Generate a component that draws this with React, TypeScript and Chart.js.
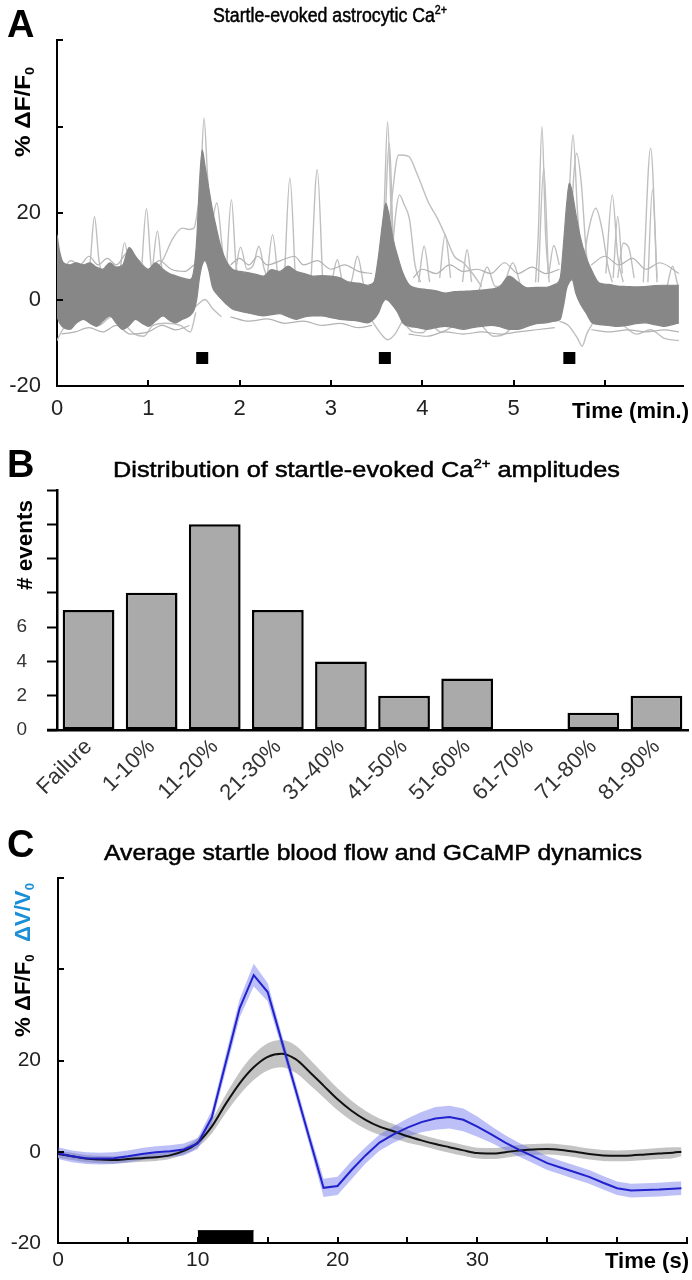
import React, { useEffect, useRef } from 'react';
import { Chart, registerables } from 'chart.js';

Chart.register(...registerables);

const FONT = "'Liberation Sans', Arial, Helvetica, sans-serif";
Chart.defaults.font.family = FONT;

// ---------------- Panel A : startle-evoked astrocytic Ca2+ ----------------
const aXTicks = [0, 1, 2, 3, 4, 5, 6];
const aXLabels = ['0', '1', '2', '3', '4', '5', ''];
const aYTicks = [-20, 0, 20, 40, 60];
const aYLabels = ['-20', '0', '20', '', ''];
const aStimTimes = [1.59, 3.59, 5.61];
const aStimLevel = -13.5;

// dense cloud of traces: time (min) with upper / lower edge (% dF/F0)
const aTime = [
  0, 0.03, 0.07, 0.14, 0.21, 0.29, 0.36, 0.43, 0.5, 0.58,
  0.65, 0.72, 0.79, 0.86, 0.93, 1.0, 1.08, 1.16, 1.23, 1.3,
  1.37, 1.45, 1.5, 1.53, 1.56, 1.59, 1.62, 1.66, 1.7, 1.74,
  1.79, 1.85, 1.92, 2.0, 2.09, 2.18, 2.26, 2.35, 2.44, 2.53,
  2.62, 2.71, 2.8, 2.9, 3.0, 3.1, 3.2, 3.3, 3.4, 3.47,
  3.52, 3.56, 3.6, 3.64, 3.68, 3.73, 3.79, 3.86, 3.95, 4.05,
  4.15, 4.25, 4.35, 4.45, 4.55, 4.65, 4.75, 4.85, 4.95, 5.05,
  5.15, 5.25, 5.35, 5.45, 5.51, 5.55, 5.58, 5.61, 5.64, 5.68,
  5.73, 5.79, 5.86, 5.94, 6.04, 6.14, 6.24, 6.34, 6.44, 6.54,
  6.64, 6.74, 6.81,
];
const aUpper = [
  15, 11, 8.5, 8, 8.5, 8, 8.5, 7.5, 7, 8.5,
  7.5, 8, 12, 10, 8, 7, 8.5, 7, 6, 5.5,
  5, 4.6, 7, 14, 27, 34.6, 31, 26, 21, 17,
  12.5, 9, 7, 6.5, 6.2, 5.8, 5.4, 6.9, 6.5, 7.7,
  6.5, 6, 5.4, 5.5, 5.4, 5, 4, 3.8, 3.3, 4,
  10, 17, 22.3, 19, 14, 10, 6, 3.3, 2.6, 2.3,
  2, 1.5, 1.8, 1.9, 2, 2.2, 2.4, 3, 5.4, 4,
  2.7, 2.8, 2.8, 3.5, 5, 14, 22, 26.9, 25, 20,
  14.5, 10, 6.5, 3.8, 3.5, 3.1, 3, 2.9, 3, 3.2,
  3.3, 3.3, 3.3,
];
const aLower = [
  -4, -5.5, -6.5, -6.9, -5.5, -4.6, -5.5, -6.2, -5, -3.8,
  -5.5, -6.9, -6, -4.6, -5.5, -6.2, -5, -3.8, -4.8, -5.4,
  -4.6, -3.8, -2.5, 0, 5, 8, 9, 7, 3, 1.5,
  0.3, -1, -2.2, -2.7, -3.1, -3.5, -3.8, -3.5, -3.3, -4,
  -4.6, -4, -3.8, -3.8, -4.2, -4.6, -4.8, -5, -5.4, -4.5,
  -3.1, -1, 0, -0.5, -1.5, -3, -5.5, -6.2, -6.5, -6.9,
  -6.5, -6.2, -6.5, -6.9, -6.5, -6.2, -6, -6.3, -6.9, -6.9,
  -6.2, -5.6, -5.4, -5, -4.6, -1, 2.5, 4, 4.6, 1.5,
  -1, -3, -5.4, -5.8, -6, -6.2, -6, -5.6, -5.4, -5.8,
  -6.2, -5.8, -5.4,
];

// traces hugging the edge of the cloud: [time, value] pairs
const aHaloTraces: number[][][] = [
  [[0.05, 6], [0.15, 9], [0.25, 8], [0.35, 10], [0.45, 8], [0.55, 9.5], [0.65, 8], [0.78, 11], [0.9, 9], [1.0, 7], [1.12, 9], [1.25, 7], [1.4, 6.5], [1.5, 8]],
  [[1.9, 8], [2.0, 9.5], [2.1, 8], [2.2, 10], [2.3, 8], [2.45, 9], [2.6, 10], [2.7, 8], [2.85, 9], [3.0, 7], [3.15, 8], [3.3, 6.5], [3.45, 6]],
  [[3.9, 5], [4.0, 7], [4.15, 6], [4.3, 8], [4.45, 6.5], [4.6, 7], [4.75, 6], [4.9, 8.5], [5.05, 6], [5.2, 7.5], [5.35, 6], [5.5, 7]],
  [[5.85, 8], [6.0, 10], [6.15, 8], [6.3, 9.5], [6.45, 7], [6.6, 8.5], [6.81, 6]],
  [[0.05, -8], [0.2, -7.5], [0.35, -6.5], [0.5, -7.5], [0.65, -6], [0.8, -8], [1.0, -7.5], [1.15, -6], [1.3, -7], [1.45, -6]],
  [[1.9, -4], [2.1, -5], [2.3, -4.5], [2.5, -5.5], [2.7, -5], [2.9, -6], [3.1, -5.5], [3.3, -6.5], [3.45, -6]],
  [[3.85, -8], [4.05, -8.5], [4.25, -7.5], [4.45, -8], [4.65, -7.5], [4.85, -8], [5.05, -7.5], [5.25, -7], [5.45, -6.5]],
  [[5.85, -7], [6.05, -7.5], [6.25, -7], [6.45, -7.5], [6.65, -7], [6.81, -7.5]],
];

// individual traces that leave the cloud: [time, value] pairs
const aLightTraces: number[][][] = [
  [[0.30, 4], [0.36, 8], [0.41, 19.2], [0.46, 9], [0.52, 4]],
  [[0.68, 5], [0.74, 13.1], [0.80, 6]],
  [[0.92, 5], [0.98, 21], [1.03, 8], [1.07, 6]],
  [[1.04, 6], [1.10, 15.8], [1.15, 7], [1.20, 4]],
  [[1.02, 5], [1.16, 9.2], [1.26, 13.8], [1.37, 16.5], [1.45, 16.2], [1.50, 16.5], [1.55, 22], [1.60, 28], [1.70, 18], [1.80, 10], [1.90, 6]],
  [[1.52, 6], [1.57, 25], [1.61, 41.9], [1.65, 28], [1.70, 15], [1.78, 6]],
  [[1.68, 15], [1.75, 22.3], [1.82, 10], [1.88, 5]],
  [[1.85, 5], [1.91, 23.1], [1.96, 8], [2.00, 4]],
  [[1.95, 6], [2.01, 12.1], [2.08, 7], [2.15, 8], [2.21, 12.3], [2.27, 7], [2.31, 5]],
  [[2.30, 5], [2.36, 15], [2.42, 5]],
  [[2.49, 5], [2.55, 28.1], [2.61, 5]],
  [[2.78, 4], [2.85, 30], [2.91, 4]],
  [[3.00, 3], [3.07, 9.2], [3.14, 3], [3.22, 4], [3.29, 10], [3.36, 3]],
  [[3.53, 3], [3.58, 20], [3.62, 41.1], [3.66, 20], [3.72, 5]],
  [[3.57, 5], [3.64, 36.1], [3.68, 15], [3.74, 5]],
  [[3.58, 5], [3.66, 22], [3.74, 33.4], [3.85, 33.1], [3.94, 29.2], [4.07, 22.3], [4.16, 19], [4.24, 15.4], [4.35, 10], [4.45, 8.5], [4.55, 6], [4.65, 3]],
  [[3.66, 8], [3.71, 20], [3.75, 24.2], [3.80, 22], [3.86, 18.5], [3.92, 8], [3.98, 4]],
  [[3.96, 4], [4.02, 12.3], [4.08, 4]],
  [[4.19, 5], [4.25, 15], [4.31, 5]],
  [[4.44, 4], [4.49, 11.5], [4.54, 4]],
  [[4.62, 2], [4.71, 7.5], [4.80, 3], [4.90, 4], [4.99, 8.5], [5.08, 3]],
  [[5.24, 4], [5.27, 15], [5.31, 40], [5.35, 15], [5.39, 4]],
  [[5.27, 4], [5.33, 30.4], [5.38, 6]],
  [[5.38, 5], [5.44, 12.5], [5.50, 8]],
  [[5.56, 5], [5.61, 25], [5.65, 38.1], [5.70, 20], [5.76, 6]],
  [[5.60, 8], [5.69, 33.8], [5.74, 27], [5.80, 10], [5.86, 5]],
  [[5.76, 8], [5.82, 16], [5.90, 21.1], [5.97, 16], [6.03, 8], [6.08, 4]],
  [[6.01, 6], [6.08, 24.2], [6.14, 10], [6.20, 4]],
  [[6.09, 5], [6.14, 19.2], [6.19, 6]],
  [[6.14, 5], [6.20, 13], [6.26, 12], [6.32, 5]],
  [[6.42, 4], [6.50, 35], [6.57, 5]],
  [[6.47, 4], [6.52, 25.4], [6.57, 4]],
  [[6.68, 3], [6.74, 7.7], [6.80, 3]],
  [[0, -9.5], [0.06, -7], [0.15, -5], [0.3, -4], [0.45, -6], [0.6, -4], [0.75, -6], [0.85, -8], [0.95, -8.5], [1.05, -6], [1.2, -5.5], [1.35, -6], [1.46, -7.5], [1.52, -3]],
  [[1.45, -3], [1.55, -1], [1.62, 0], [1.7, -2], [1.8, -4]],
  [[3.45, -5], [3.55, -8], [3.62, -9.3], [3.7, -8], [3.78, -5]],
  [[3.78, -5], [3.9, -7.5], [4.0, -7.7], [4.1, -6], [4.2, -7.5], [4.35, -6]],
  [[4.65, -6], [4.78, -8.5], [4.9, -8], [5.0, -6]],
  [[5.5, -5], [5.6, -6], [5.7, -9], [5.75, -10.8], [5.8, -8], [5.88, -5]],
  [[6.2, -6], [6.35, -8], [6.5, -7], [6.65, -9], [6.81, -9.5]],
];

// ---------------- Panel B : distribution of amplitudes ----------------
const bCategories = ['Failure', '1-10%', '11-20%', '21-30%', '31-40%', '41-50%', '51-60%', '61-70%', '71-80%', '81-90%'];
const bCounts = [7, 8, 12, 7, 4, 2, 3, 0, 1, 2];
const bYTicks = [0, 2, 4, 6, 8, 10, 12, 14];
const bYLabels = ['0', '2', '4', '6', '', '', '', ''];

// ---------------- Panel C : average blood flow and GCaMP ----------------
const cTime = [
  0, 1, 2, 3, 4, 5, 6, 7, 8, 9,
  10, 11, 12, 13, 14, 15, 16, 17, 18, 19,
  20, 21, 22, 23, 24, 25, 26, 27, 28, 29,
  30, 31, 32, 33, 34, 35, 36, 37, 38, 39,
  40, 41, 42, 43, 44, 44.6,
];
const cFlow = [
  -0.3, -1.0, -1.4, -1.5, -1.4, -1.0, -0.5, -0.1, 0.1, 0.5,
  1.8, 7.5, 19.5, 31.5, 38.7, 35, 24.3, 13.6, 2.8, -7.9,
  -7.5, -4, -0.8, 2, 3.8, 5.3, 6.5, 7.3, 7.6, 7,
  5.5, 3.8, 2, 0.4, -1, -2.5, -3.5, -4.5, -5.5, -6.8,
  -8, -8.5, -8.4, -8.3, -8.1, -8,
];
const cFlowSem = [
  1.3, 1.3, 1.3, 1.3, 1.3, 1.3, 1.3, 1.3, 1.3, 1.3,
  1.2, 1.5, 1.8, 2, 2.5, 2, 1.5, 1.5, 1.5, 2,
  2, 2, 1.8, 1.8, 1.8, 2, 2.2, 2.5, 2.5, 2.5,
  2.2, 1.8, 1.6, 1.5, 1.5, 1.5, 1.5, 1.5, 1.5, 1.5,
  1.5, 1.5, 1.5, 1.5, 1.5, 1.5,
];
const cGCaMP = [
  -0.5, -1.0, -1.5, -1.7, -1.8, -1.6, -1.4, -1.2, -0.8, 0.2,
  2, 5.5, 10.5, 15, 18.5, 20.8, 21.5, 20.3, 17.5, 14.5,
  11.5, 9.0, 7.0, 5.5, 4.5, 3.4, 2.5, 1.7, 1.0, 0.3,
  -0.3, -0.4, -0.1, 0.3, 0.5, 0.6, 0.4, 0, -0.5, -0.8,
  -0.9, -0.8, -0.6, -0.4, -0.2, 0,
];
const cGCaMPSem = [
  0.8, 0.8, 0.8, 0.8, 0.8, 0.8, 0.8, 0.8, 0.8, 0.8,
  1, 1.5, 2, 2.5, 2.8, 3, 3, 3, 2.8, 2.6,
  2.4, 2.2, 2, 1.8, 1.6, 1.4, 1.2, 1.2, 1.2, 1.2,
  1.2, 1.2, 1.2, 1.2, 1.2, 1.2, 1.2, 1.2, 1.2, 1.2,
  1.2, 1.2, 1.2, 1.2, 1.2, 1,
];
const cStimTimes = [10, 14];
const cStimTop = -17.3;
const cXTicks = [0, 5, 10, 15, 20, 25, 30, 35, 40, 45];
const cXLabels = ['0', '', '10', '', '20', '', '30', '', '', ''];
const cYTicks = [-20, 0, 20, 40, 60];
const cYLabels = ['-20', '0', '20', '', ''];

// ---------------- helpers ----------------
type Part = { t: string; font: string; color?: string; dy?: number };

function drawParts(
  ctx: CanvasRenderingContext2D,
  parts: Part[],
  x: number,
  y: number,
  opts: { align: 'left' | 'center' | 'right'; width?: number; rotate?: boolean; stroke?: number }
) {
  ctx.save();
  let natural = 0;
  for (const p of parts) {
    ctx.font = p.font;
    natural += ctx.measureText(p.t).width;
  }
  const sx = opts.width ? opts.width / natural : 1;
  const total = natural * sx;
  ctx.translate(x, y);
  if (opts.rotate) ctx.rotate(-Math.PI / 2);
  const start = opts.align === 'left' ? 0 : opts.align === 'center' ? -total / 2 : -total;
  ctx.translate(start, 0);
  ctx.scale(sx, 1);
  ctx.textAlign = 'left';
  ctx.textBaseline = 'alphabetic';
  let cx = 0;
  for (const p of parts) {
    ctx.font = p.font;
    ctx.fillStyle = p.color || '#000';
    ctx.fillText(p.t, cx, p.dy || 0);
    if (opts.stroke) {
      ctx.strokeStyle = p.color || '#000';
      ctx.lineWidth = opts.stroke;
      ctx.strokeText(p.t, cx, p.dy || 0);
    }
    cx += ctx.measureText(p.t).width;
  }
  ctx.restore();
}

function inwardTicks(chart: any, xVals: number[], yVals: number[], len: number, lw: number) {
  const ctx = chart.ctx;
  const ca = chart.chartArea;
  const xs = chart.scales.x;
  const ys = chart.scales.y;
  ctx.save();
  ctx.strokeStyle = '#000';
  ctx.lineWidth = lw;
  for (const v of xVals) {
    const px = Math.round(xs.getPixelForValue(v));
    ctx.beginPath();
    ctx.moveTo(px, ca.bottom);
    ctx.lineTo(px, ca.bottom - len);
    ctx.stroke();
  }
  for (const v of yVals) {
    const py = Math.round(ys.getPixelForValue(v));
    ctx.beginPath();
    ctx.moveTo(ca.left, py);
    ctx.lineTo(ca.left + len, py);
    ctx.stroke();
  }
  ctx.restore();
}

const baseOptions = (padTop: number) => ({
  responsive: false,
  animation: false as const,
  devicePixelRatio: 1,
  events: [] as any[],
  layout: { padding: { top: padTop, right: 4, left: 0, bottom: 0 } },
  plugins: { legend: { display: false }, tooltip: { enabled: false } },
});

const tickFont = (size: number) => ({ family: FONT, size });

// ---------------- chart builders ----------------
function buildA(height: number) {
  const datasets: any[] = [];
  datasets.push({
    data: aStimTimes.map((t) => ({ x: t, y: aStimLevel })),
    showLine: false,
    pointStyle: 'rect',
    pointRadius: 8.5,
    pointBackgroundColor: '#000',
    pointBorderColor: '#000',
    pointBorderWidth: 0,
    order: 0,
  });
  datasets.push({
    data: aTime.map((t, i) => ({ x: t, y: aUpper[i] })),
    borderColor: '#878787',
    backgroundColor: '#878787',
    borderWidth: 1.2,
    pointRadius: 0,
    fill: '+1',
    cubicInterpolationMode: 'monotone',
    order: 1,
  });
  datasets.push({
    data: aTime.map((t, i) => ({ x: t, y: aLower[i] })),
    borderColor: '#878787',
    borderWidth: 1.2,
    pointRadius: 0,
    fill: false,
    cubicInterpolationMode: 'monotone',
    order: 1,
  });
  aHaloTraces.forEach((tr) =>
    datasets.push({
      data: tr.map(([x, y]) => ({ x, y })),
      borderColor: '#b3b3b3',
      borderWidth: 1.2,
      pointRadius: 0,
      fill: false,
      cubicInterpolationMode: 'monotone',
      order: 2,
    })
  );
  aLightTraces.forEach((tr) =>
    datasets.push({
      data: tr.map(([x, y]) => ({ x, y })),
      borderColor: '#bfbfbf',
      borderWidth: 1.4,
      pointRadius: 0,
      fill: false,
      cubicInterpolationMode: 'monotone',
      order: 3,
    })
  );
  const decor = {
    id: 'decorA',
    afterDraw(chart: any) {
      const ctx = chart.ctx;
      inwardTicks(chart, aXTicks.filter((v) => v > 0), aYTicks.filter((v) => v > -20), 6, 2);
      drawParts(ctx, [{ t: 'A', font: `bold 38px ${FONT}` }], 7, 37, { align: 'left' });
      drawParts(
        ctx,
        [
          { t: 'Startle-evoked astrocytic Ca', font: `20px ${FONT}` },
          { t: '2+', font: `12px ${FONT}`, dy: -8 },
        ],
        213,
        22,
        { align: 'left', width: 234, stroke: 0.5 }
      );
      drawParts(
        ctx,
        [
          { t: '% ΔF/F', font: `bold 22px ${FONT}` },
          { t: '0', font: `bold 13px ${FONT}`, dy: 4 },
        ],
        30,
        112,
        { align: 'center', width: 90, rotate: true }
      );
      drawParts(ctx, [{ t: 'Time (min.)', font: `bold 22px ${FONT}` }], 689, 418, { align: 'right' });
    },
  };
  return {
    type: 'line',
    data: { datasets },
    options: {
      ...baseOptions(40),
      scales: {
        x: {
          type: 'linear',
          min: 0,
          max: 6.86,
          afterBuildTicks: (s: any) => {
            s.ticks = aXTicks.map((v) => ({ value: v }));
          },
          ticks: { autoSkip: false, maxRotation: 0, padding: 10, color: '#222', font: tickFont(22), callback: (_v: any, i: number) => aXLabels[i] },
          grid: { display: false, drawTicks: false },
          border: { display: true, color: '#000', width: 2 },
          afterFit: (s: any) => {
            s.height = height - 386;
          },
        },
        y: {
          type: 'linear',
          min: -20,
          max: 60,
          afterBuildTicks: (s: any) => {
            s.ticks = aYTicks.map((v) => ({ value: v }));
          },
          ticks: { autoSkip: false, padding: 16, color: '#222', font: tickFont(22), callback: (_v: any, i: number) => aYLabels[i] },
          grid: { display: false, drawTicks: false },
          border: { display: true, color: '#000', width: 2 },
          afterFit: (s: any) => {
            s.width = 57;
          },
        },
      },
    },
    plugins: [decor],
  };
}

function buildB(height: number) {
  const top = 425;
  const decor = {
    id: 'decorB',
    afterDraw(chart: any) {
      const ctx = chart.ctx;
      const ca = chart.chartArea;
      ctx.save();
      ctx.strokeStyle = '#000';
      ctx.lineWidth = 2.5;
      ctx.beginPath();
      ctx.moveTo(47, ca.bottom);
      ctx.lineTo(ca.left, ca.bottom);
      ctx.stroke();
      ctx.restore();
      drawParts(ctx, [{ t: 'B', font: `bold 38px ${FONT}` }], 7, 477 - top, { align: 'left' });
      drawParts(
        ctx,
        [
          { t: 'Distribution of startle-evoked Ca', font: `22px ${FONT}` },
          { t: '2+', font: `13px ${FONT}`, dy: -9 },
          { t: ' amplitudes', font: `22px ${FONT}` },
        ],
        113,
        477 - top,
        { align: 'left', width: 507, stroke: 0.5 }
      );
      drawParts(ctx, [{ t: '# events', font: `bold 22px ${FONT}` }], 32, 545 - top, { align: 'center', width: 90, rotate: true });
    },
  };
  return {
    type: 'bar',
    data: {
      labels: bCategories,
      datasets: [
        {
          data: bCounts,
          backgroundColor: '#aaaaaa',
          borderColor: '#000',
          borderWidth: 2.5,
          borderSkipped: false,
          barPercentage: 0.82,
          categoryPercentage: 1,
        },
      ],
    },
    options: {
      ...baseOptions(490 - top),
      scales: {
        x: {
          grid: { display: false, drawTicks: false },
          border: { display: true, color: '#000', width: 2.5 },
          ticks: { autoSkip: false, minRotation: 45, maxRotation: 45, padding: 4, color: '#333', font: tickFont(22) },
          afterFit: (s: any) => {
            s.height = height - (730 - top);
          },
        },
        y: {
          min: 0,
          max: 14,
          afterBuildTicks: (s: any) => {
            s.ticks = bYTicks.map((v) => ({ value: v }));
          },
          ticks: { autoSkip: false, padding: 20, color: '#333', font: tickFont(19), callback: (_v: any, i: number) => bYLabels[i] },
          grid: { display: true, drawOnChartArea: false, drawTicks: true, tickLength: 10, tickWidth: 2, tickColor: '#000' },
          border: { display: true, color: '#000', width: 2.5 },
          afterFit: (s: any) => {
            s.width = 57;
          },
        },
      },
    },
    plugins: [decor],
  };
}

function buildC(height: number) {
  const top = 820;
  const pts = (vals: number[]) => cTime.map((t, i) => ({ x: t, y: vals[i] }));
  const flowUp = cFlow.map((v, i) => v + cFlowSem[i]);
  const flowLo = cFlow.map((v, i) => v - cFlowSem[i]);
  const gUp = cGCaMP.map((v, i) => v + cGCaMPSem[i]);
  const gLo = cGCaMP.map((v, i) => v - cGCaMPSem[i]);
  const clear = 'rgba(0,0,0,0)';
  const datasets: any[] = [
    { data: pts(cFlow), borderColor: '#2222cc', borderWidth: 2, pointRadius: 0, tension: 0, fill: false, order: 0 },
    { data: pts(cGCaMP), borderColor: '#111111', borderWidth: 2, pointRadius: 0, cubicInterpolationMode: 'monotone', fill: false, order: 1 },
    { data: pts(flowUp), borderColor: clear, borderWidth: 1, backgroundColor: 'rgba(95,105,235,0.42)', pointRadius: 0, tension: 0, fill: '+1', order: 2 },
    { data: pts(flowLo), borderColor: clear, borderWidth: 1, pointRadius: 0, tension: 0, fill: false, order: 2 },
    { data: pts(gUp), borderColor: clear, borderWidth: 1, backgroundColor: '#c4c4c4', pointRadius: 0, cubicInterpolationMode: 'monotone', fill: '+1', order: 3 },
    { data: pts(gLo), borderColor: clear, borderWidth: 1, pointRadius: 0, cubicInterpolationMode: 'monotone', fill: false, order: 3 },
    { data: cStimTimes.map((t) => ({ x: t, y: cStimTop })), borderColor: '#000', borderWidth: 1, backgroundColor: '#000', pointRadius: 0, fill: { value: -20 }, order: 1 },
  ];
  const decor = {
    id: 'decorC',
    afterDraw(chart: any) {
      const ctx = chart.ctx;
      inwardTicks(chart, cXTicks.filter((v) => v > 0), cYTicks.filter((v) => v > -20), 6, 2);
      drawParts(ctx, [{ t: 'C', font: `bold 38px ${FONT}` }], 7, 857 - top, { align: 'left' });
      drawParts(ctx, [{ t: 'Average startle blood flow and GCaMP dynamics', font: `22px ${FONT}` }], 104, 860 - top, { align: 'left', width: 538, stroke: 0.5 });
      drawParts(
        ctx,
        [
          { t: '% ΔF/F', font: `bold 22px ${FONT}` },
          { t: '0', font: `bold 13px ${FONT}`, dy: 4 },
          { t: '  ', font: `bold 22px ${FONT}` },
          { t: 'ΔV/V', font: `bold 22px ${FONT}`, color: '#1a8fd6' },
          { t: '0', font: `bold 13px ${FONT}`, dy: 4, color: '#1a8fd6' },
        ],
        30,
        960 - top,
        { align: 'center', width: 154, rotate: true }
      );
      drawParts(ctx, [{ t: 'Time (s)', font: `bold 22px ${FONT}` }], 689, 1268 - top, { align: 'right' });
    },
  };
  return {
    type: 'line',
    data: { datasets },
    options: {
      ...baseOptions(878 - top),
      scales: {
        x: {
          type: 'linear',
          min: 0,
          max: 45,
          afterBuildTicks: (s: any) => {
            s.ticks = cXTicks.map((v) => ({ value: v }));
          },
          ticks: { autoSkip: false, maxRotation: 0, padding: 5, color: '#222', font: tickFont(21), callback: (_v: any, i: number) => cXLabels[i] },
          grid: { display: false, drawTicks: false },
          border: { display: true, color: '#000', width: 2 },
          afterFit: (s: any) => {
            s.height = height - (1243 - top);
          },
        },
        y: {
          type: 'linear',
          min: -20,
          max: 60,
          afterBuildTicks: (s: any) => {
            s.ticks = cYTicks.map((v) => ({ value: v }));
          },
          ticks: { autoSkip: false, padding: 17, color: '#222', font: tickFont(21), callback: (_v: any, i: number) => cYLabels[i] },
          grid: { display: false, drawTicks: false },
          border: { display: true, color: '#000', width: 2 },
          afterFit: (s: any) => {
            s.width = 58;
          },
        },
      },
    },
    plugins: [decor],
  };
}

function Panel({ top, height, build }: { top: number; height: number; build: (h: number) => any }) {
  const ref = useRef<HTMLCanvasElement>(null);
  useEffect(() => {
    if (!ref.current) return;
    const chart = new Chart(ref.current, build(height) as any);
    return () => chart.destroy();
  }, []);
  return (
    <canvas
      ref={ref}
      width={692}
      height={height}
      style={{ position: 'absolute', left: 0, top, width: 692, height, display: 'block' }}
    />
  );
}

export default function App() {
  return (
    <div style={{ position: 'absolute', left: 0, top: 0, width: 692, height: 1280, background: '#ffffff', overflow: 'hidden' }}>
      <Panel top={0} height={425} build={buildA} />
      <Panel top={425} height={395} build={buildB} />
      <Panel top={820} height={460} build={buildC} />
    </div>
  );
}
